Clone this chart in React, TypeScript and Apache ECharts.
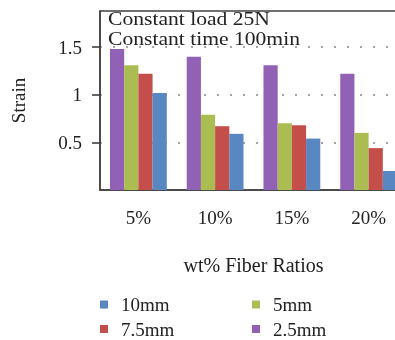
import React, { useEffect, useRef } from "react";
import * as echarts from "echarts";

const categories = ["5%", "10%", "15%", "20%"];
const seriesNames = ["2.5mm", "5mm", "7.5mm", "10mm"];
const s25 = [1.48, 1.4, 1.31, 1.22];
const s5 = [1.31, 0.79, 0.7, 0.6];
const s75 = [1.22, 0.67, 0.68, 0.44];
const s10 = [1.02, 0.59, 0.54, 0.2];
const yTicks = [0.5, 1, 1.5];
const colors = ["#9061b5", "#abbd52", "#c44f4a", "#5887c1"];
const legendOrder = ["10mm", "5mm", "7.5mm", "2.5mm"];
const titleLines = ["Constant load 25N", "Constant time 100min"];
const FONT = "Liberation Serif";

export default function App() {
  const ref = useRef<HTMLDivElement>(null);
  useEffect(() => {
    if (!ref.current) return;
    const chart = echarts.init(ref.current, undefined, { renderer: "svg" });
    const values = [s25, s5, s75, s10];
    const legendPos = [
      { left: 100, top: 294 },
      { left: 252, top: 294 },
      { left: 100, top: 318.5 },
      { left: 252, top: 318.5 },
    ];
    chart.setOption({
      animation: false,
      graphic: titleLines.map((t, i) => ({
        type: "text",
        x: 108,
        y: 19 + i * 20,
        scaleX: 1.2,
        z: 10,
        style: {
          text: t,
          fontFamily: FONT,
          fontSize: 18,
          fill: "#222",
          align: "left",
          verticalAlign: "middle",
        },
      })),
      grid: {
        left: 100,
        top: 11,
        bottom: 150,
        right: -12,
        outerBoundsMode: "none",
        containLabel: false,
        show: true,
        borderColor: "#404040",
        borderWidth: 1.5,
        backgroundColor: "transparent",
      },
      legend: legendOrder.map((n, i) => ({
        data: [n],
        left: legendPos[i].left,
        top: legendPos[i].top,
        padding: 0,
        icon: "rect",
        itemWidth: 8,
        itemHeight: 8,
        textStyle: { fontFamily: FONT, fontSize: 19, color: "#222", lineHeight: 21, padding: [0, 0, 0, 8] },
      })),
      xAxis: {
        type: "category",
        data: categories,
        name: "wt% Fiber Ratios",
        nameLocation: "middle",
        nameGap: 65,
        nameTextStyle: { fontFamily: FONT, fontSize: 20, color: "#222" },
        axisLine: { lineStyle: { color: "#404040", width: 1.5 } },
        axisTick: { alignWithLabel: true, length: 10, lineStyle: { color: "#333", width: 1.5 } },
        axisLabel: { margin: 18, fontFamily: FONT, fontSize: 19, color: "#222" },
      },
      yAxis: {
        type: "value",
        min: 0,
        max: 1.88,
        interval: 0.5,
        name: "Strain",
        nameLocation: "middle",
        nameGap: 72,
        nameRotate: 90,
        nameTextStyle: { fontFamily: FONT, fontSize: 19, color: "#222" },
        axisLine: { show: true, lineStyle: { color: "#404040", width: 1.5 } },
        axisTick: { show: true, length: 8, customValues: yTicks, lineStyle: { color: "#333", width: 1.5 } },
        axisLabel: {
          margin: 18,
          customValues: yTicks,
          fontFamily: FONT,
          fontSize: 19,
          color: "#222",
        },
        splitLine: { show: true, lineStyle: { color: "#888", width: 1.5, type: [2, 11] } },
      },
      series: seriesNames.map((n, i) => ({
        name: n,
        type: "bar",
        data: values[i],
        barGap: "0%",
        barCategoryGap: "26%",
        itemStyle: { color: colors[i] },
      })),
    });
    return () => chart.dispose();
  }, []);
  return <div ref={ref} style={{ position: "fixed", left: 0, top: 0, width: 395, height: 340 }} />;
}
